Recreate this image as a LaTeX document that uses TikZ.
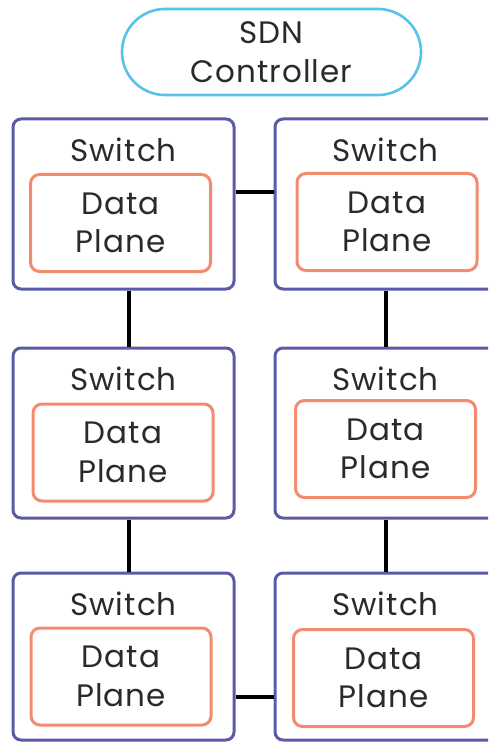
\documentclass[tikz,border=0pt]{standalone}
\usepackage{fontspec}
\setmainfont{Poppins}[LetterSpace=3.5]
\definecolor{ctrlblue}{HTML}{55C3EC}
\definecolor{swpurple}{HTML}{5A5AA6}
\definecolor{dporange}{HTML}{F58B6E}
\definecolor{txt}{HTML}{2A2A2A}
\begin{document}
\begin{tikzpicture}[x=1pt,y=-1pt,
  lbl/.style={font=\fontsize{31}{38.5}\selectfont, text=txt, align=center},
  ctrl/.style={lbl, draw=ctrlblue, line width=2.6pt, rounded corners=43pt, minimum width=299pt, minimum height=86pt, inner sep=0pt},
  switchbox/.style={draw=swpurple, line width=3pt, rounded corners=8pt, minimum width=221pt, minimum height=170pt, inner sep=0pt},
  dpbox/.style={lbl, draw=dporange, line width=3pt, rounded corners=9pt, minimum width=180pt, minimum height=97pt, inner sep=0pt},
  swlabel/.style={lbl, anchor=base},
  link/.style={draw=black, line width=4pt}]
\useasboundingbox (0,0) rectangle (488,743);
\clip (0,0) rectangle (488,743);

% controller
\node[ctrl] (ctrl) at (271.5,52) {SDN\\Controller};

% switches
\node[switchbox] (s11) at (123.5,204) {};
\node[switchbox] (s12) at (385.5,204) {};
\node[switchbox, minimum height=170pt] (s21) at (123.5,433) {};
\node[switchbox, minimum height=170pt] (s22) at (385.5,433) {};
\node[switchbox, minimum height=167pt] (s31) at (123.5,656.5) {};
\node[switchbox, minimum height=167pt] (s32) at (385.5,656.5) {};

% switch titles
\foreach \s in {s11,s12,s21,s22,s31,s32}
  \node[swlabel] (\s-t) at ([yshift=-44pt]\s.north) {Switch};

% data planes
\node[dpbox] (d11) at (120.5,223) {Data\\Plane};
\node[dpbox] (d12) at (387,222) {Data\\Plane};
\node[dpbox] (d21) at (123,452.5) {Data\\Plane};
\node[dpbox] (d22) at (385.5,449) {Data\\Plane};
\node[dpbox] (d31) at (121,676.5) {Data\\Plane};
\node[dpbox] (d32) at (383.5,678) {Data\\Plane};

% links
\draw[link] ([yshift=12pt]s11.east) -- ([yshift=12pt]s12.west);
\draw[link] ([yshift=-40.5pt]s31.east) -- ([yshift=-40.5pt]s32.west);
\draw[link] ([xshift=5.5pt]s11.south) -- ([xshift=5.5pt]s21.north);
\draw[link] ([xshift=5.5pt]s21.south) -- ([xshift=5.5pt]s31.north);
\draw[link] (s12.south) -- (s22.north);
\draw[link] (s22.south) -- (s32.north);
\end{tikzpicture}
\end{document}
